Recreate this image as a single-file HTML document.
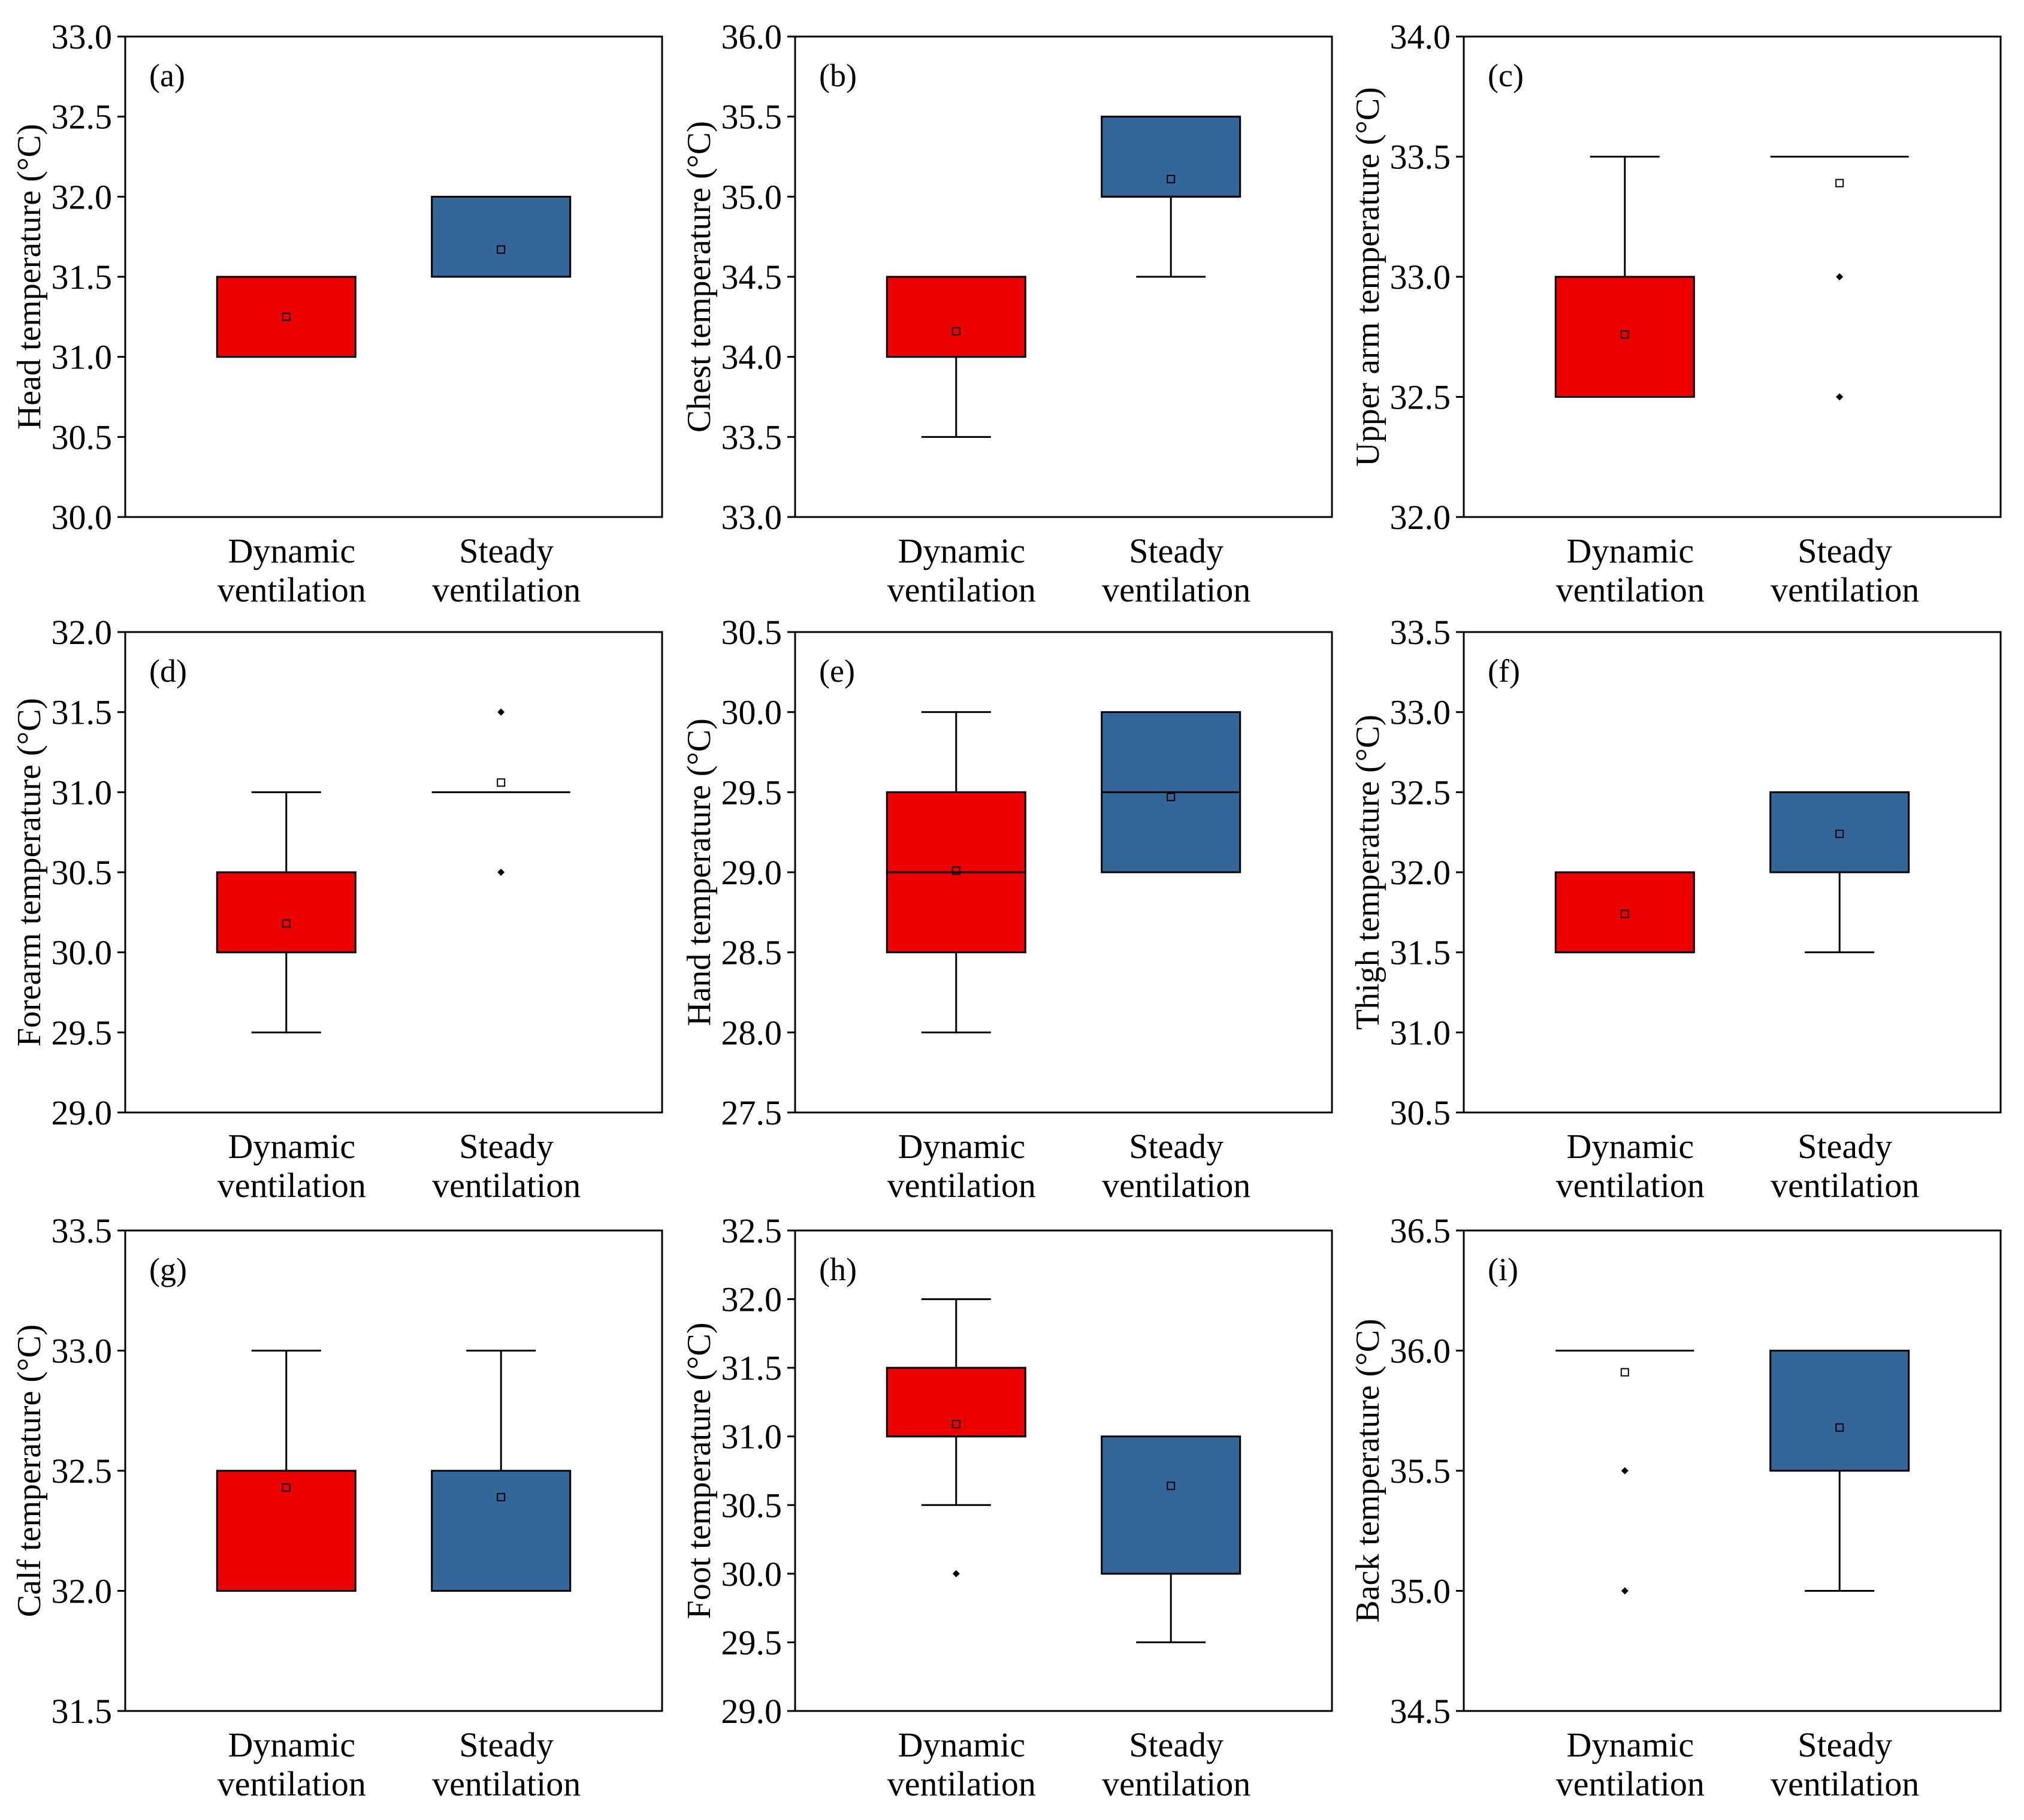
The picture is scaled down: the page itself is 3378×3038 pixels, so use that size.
<!DOCTYPE html>
<html><head><meta charset="utf-8"><style>
html,body{margin:0;padding:0;background:#fff;}
svg{display:block;}
svg text{font-family:"Liberation Serif","Times New Roman",serif;}
</style></head><body>
<svg id="chart" width="3378" height="3038" viewBox="0 0 3378 3038" xmlns="http://www.w3.org/2000/svg" font-family="Liberation Serif, serif"></svg>
<script>
const panelLabels = ["(a)","(b)","(c)","(d)","(e)","(f)","(g)","(h)","(i)"];
const yTitles = ["Head temperature (°C)","Chest temperature (°C)","Upper arm temperature (°C)","Forearm temperature (°C)","Hand temperature (°C)","Thigh temperature (°C)","Calf temperature (°C)","Foot temperature (°C)","Back temperature (°C)"];
const yMins = [30,33,32,29,27.5,30.5,31.5,29,34.5];
const yMaxs = [33,36,34,32,30.5,33.5,33.5,32.5,36.5];
const categories = ["Dynamic|ventilation","Steady|ventilation"];
const q1 = [[31,31.5],[34,35],[32.5,33.5],[30,31],[28.5,29],[31.5,32],[32,32],[31,30],[36,35.5]];
const medians = [[31,31.5],[34,35],[32.5,33.5],[30,31],[29,29.5],[31.5,32],[32,32],[31,30],[36,35.5]];
const q3 = [[31.5,32],[34.5,35.5],[33,33.5],[30.5,31],[29.5,30],[32,32.5],[32.5,32.5],[31.5,31],[36,36]];
const whiskerLo = [[null,null],[33.5,34.5],[null,null],[29.5,null],[28,null],[null,31.5],[null,null],[30.5,29.5],[null,35]];
const whiskerHi = [[null,null],[null,null],[33.5,null],[31,null],[30,null],[null,null],[33,33],[32,null],[null,null]];
const means = [[31.25,31.67],[34.16,35.11],[32.76,33.39],[30.18,31.06],[29.01,29.47],[31.74,32.24],[32.43,32.39],[31.09,30.64],[35.91,35.68]];
const outliers = [[[],[]],[[],[]],[[],[33.0,32.5]],[[],[31.5,30.5]],[[],[]],[[],[]],[[],[]],[[30.0],[]],[[35.5,35.0],[]]];
const tickStep = 0.5;

const NS = "http://www.w3.org/2000/svg";
const svg = document.getElementById("chart");
const colX = [209,1327,2443], rowY = [61,1055,2054];
const W = 896, H = 802;
const fills = ["#EE0000","#336699"];
const groupNames = ["dynamic","steady"];
const FF = "Liberation Serif, serif";
function mk(tag, attrs, parent){const e=document.createElementNS(NS,tag);for(const k in attrs)e.setAttribute(k,attrs[k]);parent.appendChild(e);return e;}

for(let p=0;p<9;p++){
  const L = colX[p%3], T = rowY[Math.floor(p/3)];
  const g = mk("g",{},svg);
  
  
  const y = v => T + H - (v - yMins[p])/(yMaxs[p]-yMins[p])*H;
  const x = f => L + f*W;
  const fr = mk("rect",{x:L,y:T,width:W,height:H,fill:"none",stroke:"#000","stroke-width":3},g);
  
  
  const nT = Math.round((yMaxs[p]-yMins[p])/tickStep);
  for(let i=0;i<=nT;i++){
    const v = yMins[p]+i*tickStep;
    const tk = mk("line",{x1:L-13,x2:L,y1:y(v),y2:y(v),stroke:"#000","stroke-width":3},g);
    
    
    const tl = mk("text",{x:L-22,y:y(v)+20,"text-anchor":"end","font-size":58,"font-family":FF},g);
    tl.textContent = v.toFixed(1);
    
    
  }
  const cy = T+H/2;
  const yt = mk("text",{x:L-142,y:cy,"text-anchor":"middle","font-size":56,"font-family":FF,transform:`rotate(-90 ${L-142} ${cy})`},g);
  yt.textContent = yTitles[p];
  
  
  const pl = mk("text",{x:L+40,y:T+83,"font-size":54,"font-family":FF},g);
  pl.textContent = panelLabels[p];
  
  
  for(let c=0;c<2;c++){
    const cx = x(c===0?0.3:0.7), bw = 231;
    const parts = categories[c].split("|");
    const l1 = mk("text",{x:cx+9,y:T+H+76,"text-anchor":"middle","font-size":58,"font-family":FF},g);
    l1.textContent = parts[0];
    
    
    const l2 = mk("text",{x:cx+9,y:T+H+141,"text-anchor":"middle","font-size":58,"font-family":FF},g);
    l2.textContent = parts[1];
    
    
    const wl = whiskerLo[p][c], wh = whiskerHi[p][c];
    if(wl!==null){
      const a = mk("line",{x1:cx,x2:cx,y1:y(q1[p][c]),y2:y(wl),stroke:"#000","stroke-width":3},g);
      
      
      const b = mk("line",{x1:cx-58,x2:cx+58,y1:y(wl),y2:y(wl),stroke:"#000","stroke-width":3},g);
      
      
    }
    if(wh!==null){
      const a = mk("line",{x1:cx,x2:cx,y1:y(q3[p][c]),y2:y(wh),stroke:"#000","stroke-width":3},g);
      
      
      const b = mk("line",{x1:cx-58,x2:cx+58,y1:y(wh),y2:y(wh),stroke:"#000","stroke-width":3},g);
      
      
    }
    const bx = mk("rect",{x:cx-bw/2,y:y(q3[p][c]),width:bw,height:Math.max(0,y(q1[p][c])-y(q3[p][c])),fill:fills[c],stroke:"#000","stroke-width":3},g);
    
    
    const md = mk("line",{x1:cx-bw/2,x2:cx+bw/2,y1:y(medians[p][c]),y2:y(medians[p][c]),stroke:"#000","stroke-width":3},g);
    
    
    const mn = mk("rect",{x:cx-6,y:y(means[p][c])-6,width:12,height:12,fill:"none",stroke:"#000","stroke-width":2},g);
    
    
    for(const o of outliers[p][c]){
      const oy = y(o);
      const d = mk("polygon",{points:`${cx},${oy-6} ${cx+6},${oy} ${cx},${oy+6} ${cx-6},${oy}`,fill:"#000"},g);
      
      
    }
  }
}
</script>
</body></html>
